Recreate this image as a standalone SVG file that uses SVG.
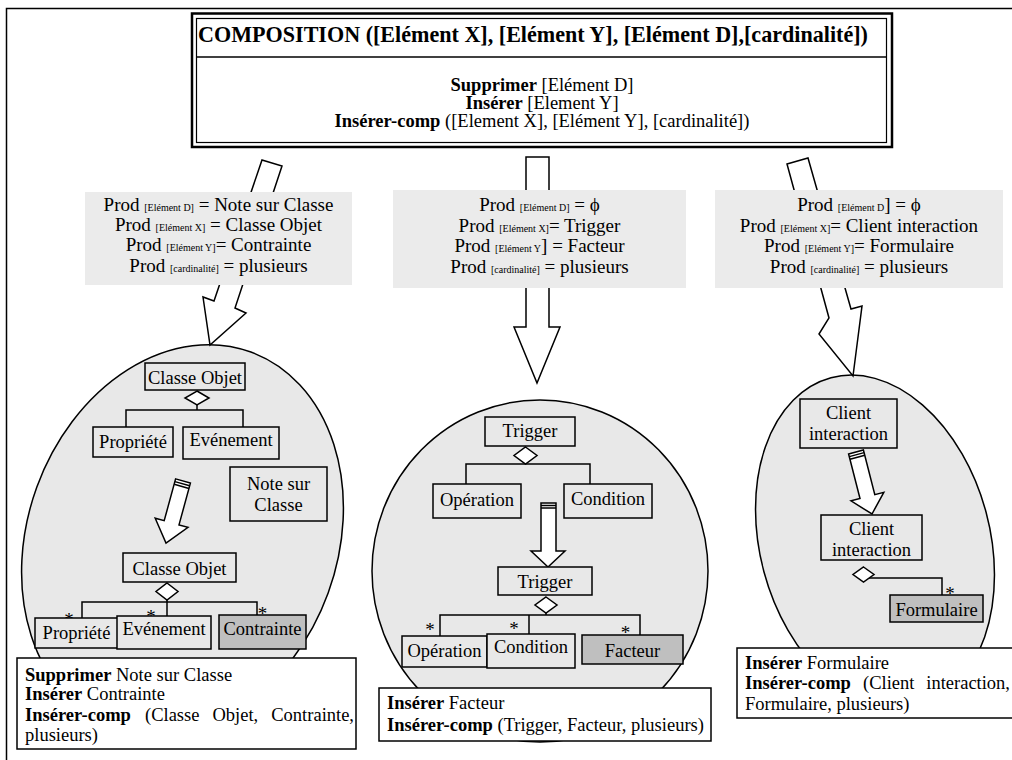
<svg xmlns="http://www.w3.org/2000/svg" width="1012" height="760" viewBox="0 0 1012 760">
<style>
text{font-family:"Liberation Serif","Times New Roman",serif;fill:#000}
.t{font-size:18.5px}
.b{font-weight:bold}
.title{font-size:22.1px;font-weight:bold}
.lbl{font-size:19px}
.sub{font-size:10px}
.ast{font-size:19px}
.node{fill:#e8e8e8;stroke:#000;stroke-width:1.5}
.gnode{fill:#bfbfbf;stroke:#000;stroke-width:1.5}
.ell{fill:#e8e8e8;stroke:#000;stroke-width:1.5}
.arrow{fill:#fff;stroke:#000;stroke-width:1.5;stroke-linejoin:miter}
.lab{fill:#ebebeb;stroke:none}
.dia{fill:#fff;stroke:#000;stroke-width:1.5}
.ln{fill:none;stroke:#000;stroke-width:1.5}
.box{fill:#fff;stroke:#000;stroke-width:1.5}
</style>
<path d="M6.5,760 V8.5 H1012" class="ln"/>

<g id="composition">
<rect x="192" y="13.5" width="700" height="133.5" fill="#fff" stroke="#000" stroke-width="2.5"/>
<rect x="196.5" y="18.5" width="690" height="124" fill="none" stroke="#000" stroke-width="1.2"/>
<line x1="196.5" y1="57" x2="886.5" y2="57" class="ln"/>
<text x="533" y="42" text-anchor="middle" class="title">COMPOSITION ([Elément X], [Elément Y], [Elément D],[cardinalité])</text>
<text x="542" y="91" text-anchor="middle" class="t"><tspan class="b">Supprimer</tspan> [Elément D]</text>
<text x="542" y="109" text-anchor="middle" class="t"><tspan class="b">Insérer</tspan> [Element Y]</text>
<text x="542" y="127" text-anchor="middle" class="t"><tspan class="b">Insérer-comp</tspan> ([Element X], [Elément Y], [cardinalité])</text>
</g>

<g id="ellipse-left">
<ellipse cx="182.5" cy="540" rx="155" ry="200" transform="rotate(20 182.5 540)" class="ell"/>
</g>
<g id="ellipse-middle">
<ellipse cx="540" cy="571" rx="168" ry="171" class="ell"/>
</g>
<g id="ellipse-right">
<ellipse cx="875" cy="542" rx="115" ry="170" transform="rotate(-15 875 542)" class="ell"/>
</g>

<g id="connectors">
<polygon class="arrow" points="262,160 282,166 235,308 246,313 210,345 203,297 214,301"/>
<polygon class="arrow" points="526,157 549,157 549,327 560,327 537,383 514,327 526,327"/>
<polygon class="arrow" points="787,164 808,158 851,309 862,306 853,376 819,334 829,318"/>
<polygon class="arrow" points="175.6,478.9 190.4,483.1 179,524.9 188,527.4 166,543 155.2,518.2 164.2,520.7"/>
<line class="ln" x1="174.9" y1="481.6" x2="189.7" y2="485.8" stroke-width="1"/>
<line class="ln" x1="174.2" y1="484.3" x2="189" y2="488.5" stroke-width="1"/>
<polygon class="arrow" points="541,503 556,503 556,551 565,551 548,567 531,551 541,551"/>
<line class="ln" x1="541" y1="505.5" x2="556" y2="505.5" stroke-width="1"/>
<line class="ln" x1="541" y1="508" x2="556" y2="508" stroke-width="1"/>
<polygon class="arrow" points="848.6,454 863.4,450 874.8,494.7 883.8,492.3 872,514 851,500.9 860,498.5"/>
<line class="ln" x1="849.3" y1="456.6" x2="864.1" y2="452.6" stroke-width="1"/>
<line class="ln" x1="850" y1="459.2" x2="864.8" y2="455.2" stroke-width="1"/>
<path class="ln" d="M126,427 V410 H243 V427 M197,405 V410"/>
<polygon class="dia" points="197,391 209,398 197,405 185,398"/>
<path class="ln" d="M82,618 V602 H257 V615 M167,600 V616"/>
<polygon class="dia" points="167,583 178,591.5 167,600 156,591.5"/>
<path class="ln" d="M466,484 V464 H590 V484"/>
<polygon class="dia" points="525.5,447 537,455.5 525.5,464 514,455.5"/>
<path class="ln" d="M440,636 V615 H640 V635 M529,615 V634 M546,613 V615"/>
<polygon class="dia" points="546,597 557,605 546,613 535,605"/>
<path class="ln" d="M869,578 H942 V595"/>
<polygon class="dia" points="863.5,567 874,574.5 863.5,582 853,574.5"/>
<text x="69" y="626" text-anchor="middle" class="ast">*</text>
<text x="151" y="623" text-anchor="middle" class="ast">*</text>
<text x="262.5" y="620" text-anchor="middle" class="ast">*</text>
<text x="430" y="636" text-anchor="middle" class="ast">*</text>
<text x="514" y="635" text-anchor="middle" class="ast">*</text>
<text x="625.5" y="639" text-anchor="middle" class="ast">*</text>
<text x="950" y="600" text-anchor="middle" class="ast">*</text>
</g>

<g id="label-left">
<rect class="lab" x="85" y="192" width="267" height="93"/>
<text x="218.5" y="211" text-anchor="middle" class="lbl">Prod <tspan class="sub">[Elément D]</tspan> = Note sur Classe</text>
<text x="218.5" y="231" text-anchor="middle" class="lbl">Prod <tspan class="sub">[Elément X]</tspan> = Classe Objet</text>
<text x="218.5" y="251" text-anchor="middle" class="lbl">Prod <tspan class="sub">[Elément Y]</tspan>= Contrainte</text>
<text x="218.5" y="272" text-anchor="middle" class="lbl">Prod <tspan class="sub">[cardinalité]</tspan> = plusieurs</text>
</g>
<g id="label-middle">
<rect class="lab" x="393" y="190" width="293" height="98"/>
<text x="539.5" y="211" text-anchor="middle" class="lbl">Prod <tspan class="sub">[Elément D]</tspan> = ϕ</text>
<text x="539.5" y="232" text-anchor="middle" class="lbl">Prod <tspan class="sub">[Elément X]</tspan>= Trigger</text>
<text x="539.5" y="252" text-anchor="middle" class="lbl">Prod <tspan class="sub">[Elément Y</tspan>] = Facteur</text>
<text x="539.5" y="273" text-anchor="middle" class="lbl">Prod <tspan class="sub">[cardinalité]</tspan> = plusieurs</text>
</g>
<g id="label-right">
<rect class="lab" x="715" y="190" width="288" height="98"/>
<text x="859" y="211" text-anchor="middle" class="lbl">Prod <tspan class="sub">[Elément D</tspan>] = ϕ</text>
<text x="859" y="232" text-anchor="middle" class="lbl">Prod <tspan class="sub">[Elément X]</tspan>= Client interaction</text>
<text x="859" y="252" text-anchor="middle" class="lbl">Prod <tspan class="sub">[Elément Y]</tspan>= Formulaire</text>
<text x="859" y="273" text-anchor="middle" class="lbl">Prod <tspan class="sub">[cardinalité]</tspan> = plusieurs</text>
</g>

<g id="n-classe-objet-1"><rect class="node" x="145" y="363" width="100" height="27"/><text x="195" y="384" text-anchor="middle" class="t">Classe Objet</text></g>
<g id="n-propriete-1"><rect class="node" x="93" y="427" width="80" height="30"/><text x="133" y="448" text-anchor="middle" class="t">Propriété</text></g>
<g id="n-evenement-1"><rect class="node" x="183" y="427" width="96" height="32"/><text x="231" y="446" text-anchor="middle" class="t">Evénement</text></g>
<g id="n-note"><rect class="node" x="230" y="467" width="97" height="54"/><text x="278.5" y="490" text-anchor="middle" class="t">Note sur</text><text x="278.5" y="511" text-anchor="middle" class="t">Classe</text></g>
<g id="n-classe-objet-2"><rect class="node" x="123" y="553" width="113" height="29"/><text x="179.5" y="575" text-anchor="middle" class="t">Classe Objet</text></g>
<g id="n-propriete-2"><rect class="node" x="35" y="618" width="83" height="30"/><text x="76.5" y="639" text-anchor="middle" class="t">Propriété</text></g>
<g id="n-evenement-2"><rect class="node" x="117" y="616" width="94" height="33"/><text x="164" y="635" text-anchor="middle" class="t">Evénement</text></g>
<g id="n-contrainte"><rect class="gnode" x="219" y="615" width="87" height="34"/><text x="262.5" y="635" text-anchor="middle" class="t">Contrainte</text></g>

<g id="n-trigger-1"><rect class="node" x="485" y="417" width="90" height="29"/><text x="530" y="437" text-anchor="middle" class="t">Trigger</text></g>
<g id="n-operation-1"><rect class="node" x="433" y="484" width="88" height="34"/><text x="477" y="506" text-anchor="middle" class="t">Opération</text></g>
<g id="n-condition-1"><rect class="node" x="564" y="484" width="88" height="34"/><text x="608" y="505" text-anchor="middle" class="t">Condition</text></g>
<g id="n-trigger-2"><rect class="node" x="498" y="567" width="94" height="28"/><text x="545" y="588" text-anchor="middle" class="t">Trigger</text></g>
<g id="n-operation-2"><rect class="node" x="402" y="636" width="85" height="31"/><text x="444.5" y="657" text-anchor="middle" class="t">Opération</text></g>
<g id="n-condition-2"><rect class="node" x="487" y="634" width="88" height="34"/><text x="531" y="653" text-anchor="middle" class="t">Condition</text></g>
<g id="n-facteur"><rect class="gnode" x="582" y="635" width="101" height="29"/><text x="632.5" y="657" text-anchor="middle" class="t">Facteur</text></g>

<g id="n-client-1"><rect class="node" x="800" y="399" width="97" height="49"/><text x="848.5" y="419" text-anchor="middle" class="t">Client</text><text x="848.5" y="440" text-anchor="middle" class="t">interaction</text></g>
<g id="n-client-2"><rect class="node" x="821" y="515" width="101" height="45"/><text x="871.5" y="535" text-anchor="middle" class="t">Client</text><text x="871.5" y="556" text-anchor="middle" class="t">interaction</text></g>
<g id="n-formulaire"><rect class="gnode" x="890" y="595" width="93" height="27"/><text x="936.5" y="616" text-anchor="middle" class="t">Formulaire</text></g>

<g id="ops-left">
<rect class="box" x="17" y="658" width="339" height="91"/>
<text x="25" y="681" class="t"><tspan class="b">Supprimer</tspan> Note sur Classe</text>
<text x="25" y="700" class="t"><tspan class="b">Insérer</tspan> Contrainte</text>
<text y="721" class="t"><tspan x="25" class="b">Insérer-comp</tspan><tspan x="145">(Classe</tspan><tspan x="212.5">Objet,</tspan></text>
<text x="354" y="721" text-anchor="end" class="t">Contrainte,</text>
<text x="25" y="741" class="t">plusieurs)</text>
</g>
<g id="ops-middle">
<rect class="box" x="379" y="688" width="332" height="53"/>
<text x="387" y="709" class="t"><tspan class="b">Insérer</tspan> Facteur</text>
<text x="387" y="731" class="t"><tspan class="b">Insérer-comp</tspan> (Trigger, Facteur, plusieurs)</text>
</g>
<g id="ops-right">
<rect class="box" x="737" y="648" width="290" height="70"/>
<text x="745" y="669" class="t"><tspan class="b">Insérer</tspan> Formulaire</text>
<text y="689" class="t"><tspan x="745" class="b">Insérer-comp</tspan><tspan x="863">(Client</tspan></text>
<text x="1010" y="689" text-anchor="end" class="t">interaction,</text>
<text x="745" y="710" class="t">Formulaire, plusieurs)</text>
</g>
</svg>
